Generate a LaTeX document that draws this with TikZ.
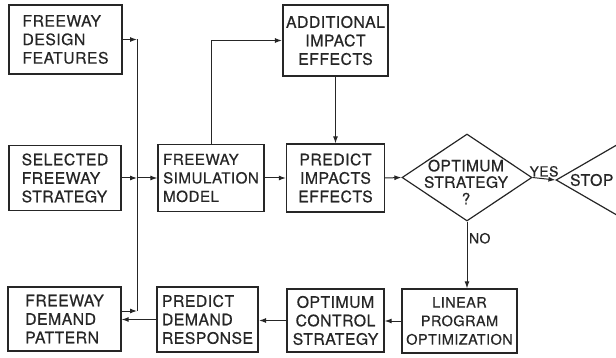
\documentclass[tikz,border=0pt]{standalone}
\usepackage{fontspec}
\setmainfont{TeX Gyre Heros}[FakeBold=0.5, LetterSpace=3]
\usetikzlibrary{shapes.geometric,arrows.meta,positioning}

\definecolor{inkgray}{HTML}{262626}
\newcommand{\boxfont}{\fontsize{15.8}{18.5}\selectfont}

\tikzset{
  box/.style={draw=inkgray, text=inkgray, line width=1.3pt, inner sep=0pt, align=center, font=\boxfont},
  heavybox/.style={box, line width=2.2pt},
  decision/.style={draw=inkgray, diamond, line width=1.2pt, inner sep=0pt},
  flow/.style={draw=inkgray, line width=1pt, -{Latex[length=7pt,width=5pt]}},
  wire/.style={draw=inkgray, line width=1pt},
  tag/.style={text=inkgray, inner sep=1.5pt, font=\fontsize{14}{16}\selectfont}
}

\begin{document}
\begin{tikzpicture}[x=1pt, y=-1pt]
  \useasboundingbox (0,0) rectangle (616,358);

  % Draw the input boxes
  \node[box, align=left, minimum width=113pt, minimum height=69pt] (design) at (65.5,39.5) {FREEWAY\\DESIGN\\FEATURES};
  \node[box, align=left, minimum width=112pt, minimum height=65pt] (selected) at (65,178) {SELECTED\\FREEWAY\\STRATEGY};
  \node[box, align=left, minimum width=113pt, minimum height=64pt] (pattern) at (64.5,319) {FREEWAY\\DEMAND\\PATTERN};

  % Draw the main row
  \node[box, align=left, font=\fontsize{15.2}{18.5}\selectfont, minimum width=106pt, minimum height=67pt] (sim) at (211,178) {FREEWAY\\SIMULATION\\MODEL};
  \node[heavybox, minimum width=105pt, minimum height=71pt] (additional) at (335.5,40.5) {ADDITIONAL\\IMPACT\\EFFECTS};
  \node[box, minimum width=98pt, minimum height=68pt] (impacts) at (335.5,178) {PREDICT\\IMPACTS\\EFFECTS};
  \node[decision, minimum width=130pt, minimum height=87pt] (optimum) at (467,177.5) {};
  \node[box, draw=none, font=\fontsize{15.5}{16.5}\selectfont] (optimumtext) at (466,182) {OPTIMUM\\STRATEGY\\?};
  \node[decision, minimum width=150pt, minimum height=87pt] (stop) at (631,180) {};
  \node[box, draw=none, right=14pt of stop.west] (stoptext) {STOP};

  % Draw the bottom row
  \node[box, font=\fontsize{14.5}{18.5}\selectfont, minimum width=115pt, minimum height=64pt] (linear) at (459.5,321) {LINEAR\\PROGRAM\\OPTIMIZATION};
  \node[box, minimum width=97pt, minimum height=63pt] (control) at (335.5,320.5) {OPTIMUM\\CONTROL\\STRATEGY};
  \node[heavybox, align=left, minimum width=101pt, minimum height=65pt] (response) at (207.5,319.5) {PREDICT\\DEMAND\\RESPONSE};

  % Draw the collecting line on the left
  \coordinate (bus) at (137,0);
  \draw[wire] (design.east -| bus) -- ([yshift=8pt]pattern.east -| bus);
  \draw[flow] (design.east) -- (design.east -| bus);
  \draw[flow] (selected.east) -- (selected.east -| bus);
  \draw[flow] ([yshift=8pt]pattern.east) -- ([yshift=8pt]pattern.east -| bus);
  \draw[flow] (sim.west -| bus) -- (sim.west);

  % Draw the connectors
  \draw[flow] (sim.north) |- (additional.west);
  \draw[flow] (additional.south) -- (impacts.north);
  \draw[flow] (sim.east) -- (impacts.west);
  \draw[flow] (impacts.east) -- (optimum.west);
  \draw[flow] (optimum.east) -- node[tag, above] (yes) {YES} (stop.west);
  \draw[flow] (optimum.south) -- node[tag, right, pos=0.25] (no) {NO} (optimum.south |- linear.north);
  \draw[flow] (linear.west) -- (linear.west -| control.east);
  \draw[flow] (control.west) -- (control.west -| response.east);
  \draw[flow] (response.west) -- (response.west -| pattern.east);
\end{tikzpicture}
\end{document}
